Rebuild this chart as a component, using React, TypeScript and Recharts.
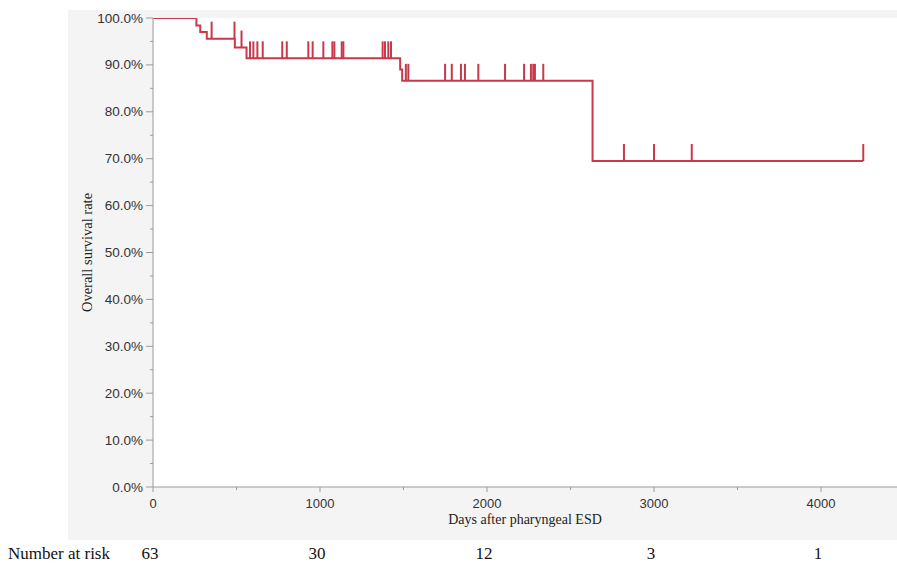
import React from 'react';
import { ComposedChart, Line, Scatter, XAxis, YAxis, CartesianGrid } from 'recharts';

// Kaplan-Meier curve (step points)
const curveDays = [0, 260, 283, 322, 490, 560, 1480, 1492, 2632, 4253];
const curveSurvival = [100, 98.4, 97.0, 95.6, 93.7, 91.4, 89.0, 86.6, 69.5, 69.5];

// Censoring marks (days)
const censorDays = [
  351, 488, 530, 581, 601, 625, 657, 774, 801, 930, 956, 1020, 1074, 1086, 1130, 1140,
  1375, 1389, 1409, 1425, 1514, 1529, 1749, 1789, 1844, 1868, 1948, 2108, 2222, 2263,
  2277, 2287, 2337, 2820, 3000, 3226, 4253,
];

const xTicks = [0, 500, 1000, 1500, 2000, 2500, 3000, 3500, 4000];
const yTicks = [0, 5, 10, 15, 20, 25, 30, 35, 40, 45, 50, 55, 60, 65, 70, 75, 80, 85, 90, 95, 100];

const riskDays = [0, 1000, 2000, 3000, 4000];
const riskCounts = [63, 30, 12, 3, 1];

const X_MAX = 4455;
const RED = '#c8394b';
const AXIS = '#9a9a9a';
const SANS = 'Arial, "Liberation Sans", sans-serif';
const SERIF = '"Times New Roman", "Liberation Serif", serif';

const curveData = curveDays.map((d, i) => ({ day: d, s: curveSurvival[i] }));

const levelAt = (day: number) => {
  let v = curveSurvival[0];
  for (let i = 0; i < curveDays.length; i++) {
    if (curveDays[i] <= day) v = curveSurvival[i];
  }
  return v;
};
const censorData = censorDays.map((d) => ({ day: d, s: levelAt(d) }));
const riskData = riskDays.map((d, i) => ({ day: d, n: riskCounts[i] }));

const XTick = (props: any) => {
  const { x, y, payload } = props;
  const major = payload.value % 1000 === 0;
  return (
    <g>
      <line x1={x} x2={x} y1={y} y2={y + (major ? 5 : 3)} stroke={AXIS} />
      {major && (
        <text x={x} y={y + 21} textAnchor="middle" fontSize={13} fill="#333" fontFamily={SANS}>
          {payload.value}
        </text>
      )}
    </g>
  );
};

const YTick = (props: any) => {
  const { x, y, payload } = props;
  const major = payload.value % 10 === 0;
  return (
    <g>
      <line x1={x - (major ? 7 : 3)} x2={x} y1={y} y2={y} stroke={AXIS} />
      {major && (
        <text x={x - 10} y={y + 4.5} textAnchor="end" fontSize={13.5} fill="#333" fontFamily={SANS}>
          {payload.value.toFixed(1) + '%'}
        </text>
      )}
    </g>
  );
};

const RiskTick = (props: any) => {
  const { x, y, index } = props;
  return (
    <g>
      {index === 0 && (
        <text x={8} y={y + 32} fontSize={17} fill="#111" fontFamily={SERIF}>
          Number at risk
        </text>
      )}
      <text x={x - 3} y={y + 32} textAnchor="middle" fontSize={17} fill="#111" fontFamily={SERIF}>
        {riskCounts[index]}
      </text>
    </g>
  );
};

const CensorMark = (props: any) => {
  const { cx, cy } = props;
  if (cx == null || cy == null) return null;
  return <line x1={cx} x2={cx} y1={cy} y2={cy - 17} stroke={RED} strokeWidth={2} />;
};

export default function App() {
  return (
    <div style={{ position: 'absolute', left: 0, top: 0, width: 897, height: 564, background: '#fff' }}>
      <div style={{ position: 'absolute', left: 68, top: 10, width: 829, height: 530, background: '#f4f4f4' }} />
      <div style={{ position: 'absolute', left: 0, top: 0 }}>
        <ComposedChart width={897} height={564} margin={{ top: 18, right: 0, bottom: 0, left: 73 }}>
          <CartesianGrid horizontal={false} vertical={false} fill="#ffffff" />
          <XAxis
            xAxisId={0}
            type="number"
            dataKey="day"
            domain={[0, X_MAX]}
            ticks={xTicks}
            interval={0}
            height={40}
            tickSize={0}
            tickMargin={0}
            tickLine={false}
            axisLine={{ stroke: AXIS }}
            tick={<XTick />}
            allowDataOverflow
            label={{
              value: 'Days after pharyngeal ESD',
              position: 'insideBottom',
              offset: 3,
              style: { fontFamily: SERIF, fontSize: 14, fill: '#222' },
            }}
          />
          <XAxis
            xAxisId="risk"
            type="number"
            dataKey="day"
            domain={[0, X_MAX]}
            ticks={riskDays}
            interval={0}
            height={37}
            tickSize={0}
            tickMargin={0}
            tickLine={false}
            axisLine={false}
            tick={<RiskTick />}
            allowDataOverflow
          />
          <YAxis
            type="number"
            domain={[0, 100]}
            ticks={yTicks}
            interval={0}
            width={80}
            tickSize={0}
            tickMargin={0}
            tickLine={false}
            axisLine={{ stroke: AXIS }}
            tick={<YTick />}
            allowDataOverflow
            label={{
              value: 'Overall survival rate',
              angle: -90,
              position: 'insideLeft',
              offset: 14,
              style: { textAnchor: 'middle', fontFamily: SERIF, fontSize: 14.5, fill: '#222' },
            }}
          />
          <Line
            data={curveData}
            dataKey="s"
            type="stepAfter"
            stroke={RED}
            strokeWidth={2}
            dot={false}
            activeDot={false}
            isAnimationActive={false}
          />
          <Scatter data={censorData} dataKey="s" shape={<CensorMark />} isAnimationActive={false} />
          <Line
            xAxisId="risk"
            data={riskData}
            dataKey="n"
            stroke="none"
            dot={false}
            activeDot={false}
            isAnimationActive={false}
          />
        </ComposedChart>
      </div>
    </div>
  );
}
